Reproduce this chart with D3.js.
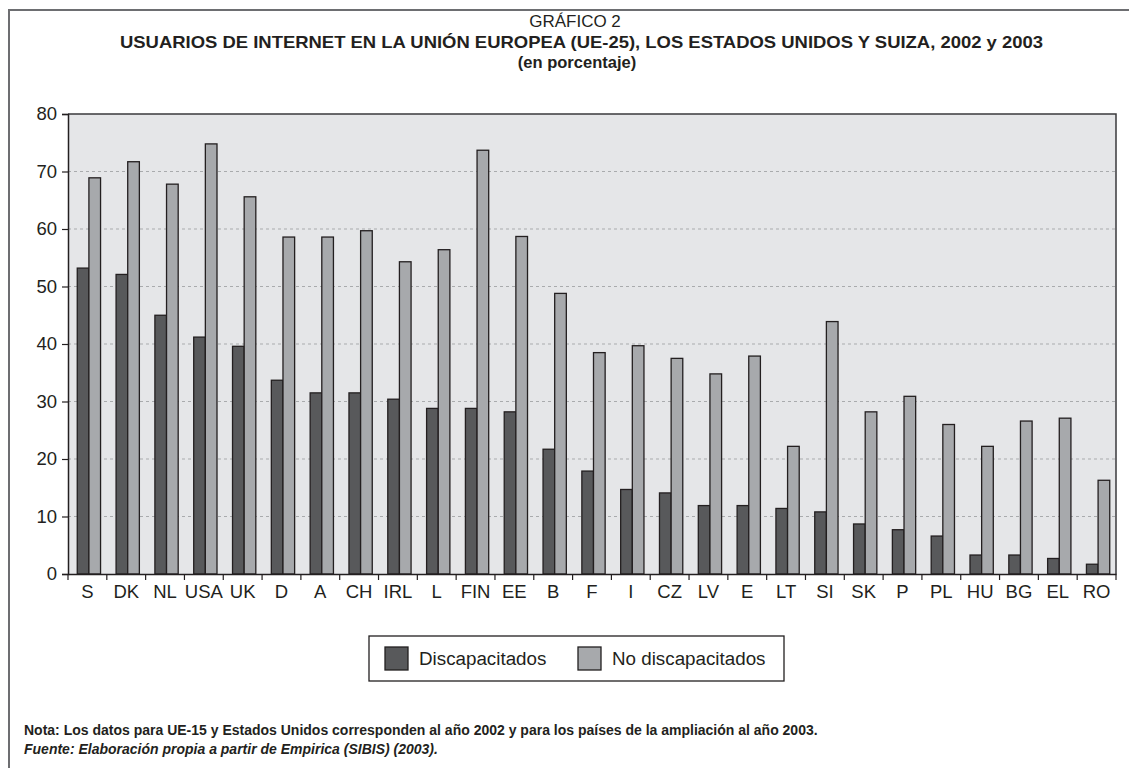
<!DOCTYPE html>
<html><head><meta charset="utf-8">
<script src="https://cdn.jsdelivr.net/npm/d3@7"></script>
<style>body{margin:0;background:#fff}svg{display:block;font-family:"Liberation Sans",Arial,Helvetica,sans-serif}</style>
</head><body><svg id="c" width="1129" height="768"></svg>
<script>
const categories = ["S","DK","NL","USA","UK","D","A","CH","IRL","L","FIN","EE","B","F","I","CZ","LV","E","LT","SI","SK","P","PL","HU","BG","EL","RO"];
const discapacitados = [53.2,52.1,45.0,41.2,39.6,33.7,31.5,31.5,30.4,28.8,28.8,28.2,21.7,17.9,14.7,14.1,11.9,11.9,11.4,10.8,8.7,7.7,6.6,3.3,3.3,2.7,1.7];
const noDiscapacitados = [68.9,71.7,67.8,74.8,65.6,58.6,58.6,59.7,54.3,56.4,73.7,58.7,48.8,38.5,39.7,37.5,34.8,37.9,22.2,43.9,28.2,30.9,26.0,22.2,26.6,27.1,16.3];
const yTicks = [0,10,20,30,40,50,60,70,80];
const seriesNames = ["Discapacitados","No discapacitados"];
const seriesColors = ["#58595b","#a7a9ac"];

const svg = d3.select("#c");
// frame
svg.append("path").attr("d","M9,769 L9,10 L1130,10").attr("fill","none").attr("stroke","#6d6e71").attr("stroke-width",2);

// titles
const t = svg.append("g").attr("text-anchor","middle").attr("fill","#231f20");
t.append("text").attr("x",575).attr("y",27).attr("font-size",17).text("GRÁFICO 2");
t.append("text").attr("x",581.5).attr("y",48).attr("font-size",16.5).attr("font-weight","bold")
  .attr("textLength",923).attr("lengthAdjust","spacingAndGlyphs")
  .text("USUARIOS DE INTERNET EN LA UNIÓN EUROPEA (UE-25), LOS ESTADOS UNIDOS Y SUIZA, 2002 y 2003");
t.append("text").attr("x",577).attr("y",68).attr("font-size",16.5).attr("font-weight","bold").text("(en porcentaje)");

const L=68,R=1116,T=114,B=574;
const x = d3.scaleBand().domain(categories).range([L,R]).padding(0);
const y = d3.scaleLinear().domain([0,80]).range([B,T]);
const bw = x.bandwidth();
const x1 = d3.scaleBand().domain([0,1]).range([bw*0.2+1.5, bw*0.8+1.5]).padding(0);

svg.append("rect").attr("x",L).attr("y",T).attr("width",R-L).attr("height",B-T).attr("fill","#e5e6e8");
// grid
svg.append("g").selectAll("line").data(yTicks.filter(d=>d>0&&d<80)).join("line")
  .attr("x1",L).attr("x2",R).attr("y1",d=>y(d)).attr("y2",d=>y(d))
  .attr("stroke","#a9abad").attr("stroke-width",1).attr("stroke-dasharray","3,3");

// bars
const data = categories.map((c,i)=>({c, v:[discapacitados[i], noDiscapacitados[i]]}));
const g = svg.append("g");
data.forEach(d=>{
  d.v.forEach((v,k)=>{
    g.append("rect").attr("x",x(d.c)+x1(k)).attr("y",y(v)).attr("width",x1.bandwidth()).attr("height",y(0)-y(v))
      .attr("fill",seriesColors[k]).attr("stroke","#231f20").attr("stroke-width",1.3);
  });
});

// plot border top/right
svg.append("path").attr("d",`M${L},${T} L${R},${T} L${R},${B}`).attr("fill","none").attr("stroke","#3a3a3c").attr("stroke-width",1.5);

// y axis
const ya = svg.append("g").attr("transform",`translate(${L},0)`).call(d3.axisLeft(y).tickValues(yTicks).tickSize(6).tickPadding(5).tickFormat(d3.format("d")));
ya.select(".domain").attr("stroke","#231f20").attr("stroke-width",1.5);
ya.selectAll(".tick line").attr("stroke","#231f20").attr("stroke-width",1.2);
ya.selectAll("text").attr("font-size",18.5).attr("fill","#231f20").attr("font-family","Liberation Sans, Arial, sans-serif");

// x axis
const xa = svg.append("g").attr("transform",`translate(0,${B})`).call(d3.axisBottom(x).tickSize(0).tickPadding(11));
xa.select(".domain").attr("stroke","#231f20").attr("stroke-width",1.5);
xa.selectAll("text").attr("font-size",18.5).attr("fill","#231f20").attr("font-family","Liberation Sans, Arial, sans-serif");
svg.append("g").selectAll("line").data(categories.map((c,i)=>i).concat([categories.length])).join("line")
  .attr("x1",i=>L+i*bw).attr("x2",i=>L+i*bw).attr("y1",B).attr("y2",B+6)
  .attr("stroke","#231f20").attr("stroke-width",1.2);

// legend
const lg = svg.append("g");
lg.append("rect").attr("x",369).attr("y",636).attr("width",415).attr("height",45).attr("fill","#fff").attr("stroke","#231f20").attr("stroke-width",1.3);
const lx = [385,578];
seriesNames.forEach((n,k)=>{
  lg.append("rect").attr("x",lx[k]).attr("y",647).attr("width",23).attr("height",23).attr("fill",seriesColors[k]).attr("stroke","#231f20").attr("stroke-width",1.3);
  lg.append("text").attr("x",lx[k]+34).attr("y",665).attr("font-size",18.8).attr("fill","#231f20").text(n);
});

// notes
svg.append("text").attr("x",24).attr("y",735).attr("font-size",14).attr("font-weight","bold").attr("fill","#231f20")
  .text("Nota: Los datos para UE-15 y Estados Unidos corresponden al año 2002 y para los países de la ampliación al año 2003.");
svg.append("text").attr("x",24).attr("y",754).attr("font-size",14).attr("font-weight","bold").attr("font-style","italic").attr("fill","#231f20")
  .text("Fuente: Elaboración propia a partir de Empirica (SIBIS) (2003).");
</script></body></html>
